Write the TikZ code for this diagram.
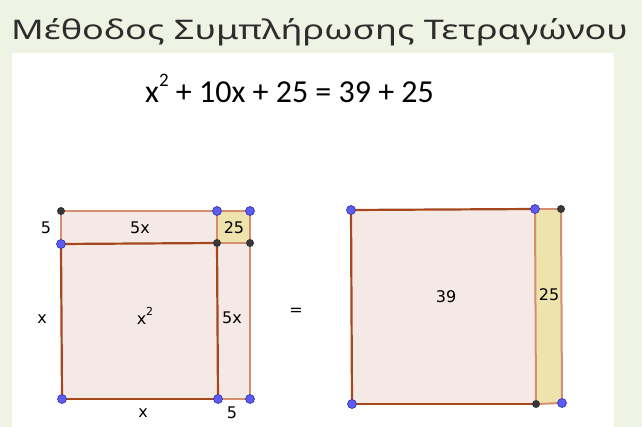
\documentclass[tikz,border=0pt]{standalone}
\usepackage{fontspec}
\setmainfont{Noto Sans}
\newfontfamily\eqfont{Carlito}
\newfontfamily\lblfont{DejaVu Sans}
\definecolor{bggreen}{RGB}{239,243,228}
\definecolor{titlecol}{RGB}{45,45,45}
\definecolor{darkedge}{RGB}{165,72,30}
\definecolor{lightedge}{RGB}{212,142,112}
\definecolor{pinkfill}{RGB}{244,233,228}
\definecolor{yellowfill}{RGB}{238,227,172}
\definecolor{ptblue}{RGB}{92,92,240}
\definecolor{ptblueb}{RGB}{45,45,170}
\definecolor{ptblack}{RGB}{55,55,55}
\tikzset{
  darkline/.style={draw=darkedge, line width=2.2pt},
  lightline/.style={draw=lightedge, line width=2pt},
  bdot/.style={circle, fill=ptblue, draw=ptblueb, line width=0.6pt, inner sep=0pt, minimum size=9pt},
  kdot/.style={circle, fill=ptblack, inner sep=0pt, minimum size=8pt},
  lbl/.style={font=\lblfont\fontsize{16}{18}\selectfont, text=black, inner sep=0pt},
}
\begin{document}
\begin{tikzpicture}[x=1pt,y=-1pt]
\useasboundingbox (0,0) rectangle (642,427);
\fill[bggreen] (0,0) rectangle (642,427);
\fill[white] (12,53) rectangle (614,427);
\node[anchor=base west, inner sep=0pt, text=titlecol, font=\fontsize{27}{30}\selectfont] (title) at (11,40) {\scalebox{1.335}[1]{Μέθοδος Συμπλήρωσης Τετραγώνου}};
\node[anchor=base west, inner sep=0pt, font=\eqfont\fontsize{32}{36}\selectfont] (eq) at (145,103)
  {x\raisebox{0.5em}{\fontsize{19}{19}\selectfont 2} + 10x + 25 = 39 + 25};
% left figure points
\coordinate (A) at (61,211); \coordinate (B) at (217,211); \coordinate (C) at (250,211);
\coordinate (D) at (61,244); \coordinate (E) at (217,243); \coordinate (F) at (250,243);
\coordinate (G) at (62,399); \coordinate (H) at (218,399); \coordinate (I) at (250,399);
% right figure points
\coordinate (P) at (351,210); \coordinate (Q) at (535,209); \coordinate (R) at (561,209);
\coordinate (S) at (352,404); \coordinate (T) at (536,404); \coordinate (U) at (562,403);
% fills
\fill[pinkfill] (A) -- (C) -- (I) -- (G) -- cycle;
\fill[yellowfill] (B) -- (C) -- (F) -- (E) -- cycle;
\fill[pinkfill] (P) -- (Q) -- (T) -- (S) -- cycle;
\fill[yellowfill] (Q) -- (R) -- (U) -- (T) -- cycle;
% light edges
\draw[lightline] (A) -- (B);
\draw[lightline] (B) -- (C);
\draw[lightline] (A) -- (D);
\draw[lightline] (B) -- (E);
\draw[lightline] (C) -- (F);
\draw[lightline] (F) -- (I);
\draw[lightline] (E) -- (F);
\draw[lightline] (H) -- (I);
\draw[lightline] (Q) -- (R);
\draw[lightline] (R) -- (U);
\draw[lightline] (T) -- (U);
\draw[lightline] (Q) -- (T);
% dark edges
\draw[darkline] (D) -- (E);
\draw[darkline] (E) -- (H);
\draw[darkline] (H) -- (G);
\draw[darkline] (G) -- (D);
\draw[darkline] (P) -- (Q);
\draw[darkline] (T) -- (S);
\draw[darkline] (S) -- (P);
% dots
\node[kdot] (Adot) at (A) {};
\node[bdot] (Bdot) at (B) {};
\node[bdot] (Cdot) at (C) {};
\node[bdot] (Ddot) at (D) {};
\node[kdot] (Edot) at (E) {};
\node[kdot] (Fdot) at (F) {};
\node[bdot] (Gdot) at (G) {};
\node[bdot] (Hdot) at (H) {};
\node[bdot] (Idot) at (I) {};
\node[bdot] (Pdot) at (P) {};
\node[bdot] (Qdot) at (Q) {};
\node[kdot] (Rdot) at (R) {};
\node[bdot] (Sdot) at (S) {};
\node[kdot] (Tdot) at (T) {};
\node[bdot] (Udot) at (U) {};
% labels
\node[lbl] (l5a) at (46,228) {5};
\node[lbl] (l5x) at (140,228) {5x};
\node[lbl] (l25a) at (234,228) {25};
\node[lbl] (lxa) at (42,319) {x};
\node[lbl] (lx2) at (145,316) {x\raisebox{0.55em}{\fontsize{11}{11}\selectfont 2}};
\node[lbl] (l5xb) at (232,318) {5x};
\node[lbl] (lxb) at (143,413) {x};
\node[lbl] (l5b) at (232,413) {5};
\node[lbl] (l39) at (446,297) {39};
\node[lbl] (l25b) at (549,295) {25};
\node[lbl] (leq) at (296,312) {=};
\end{tikzpicture}
\end{document}
